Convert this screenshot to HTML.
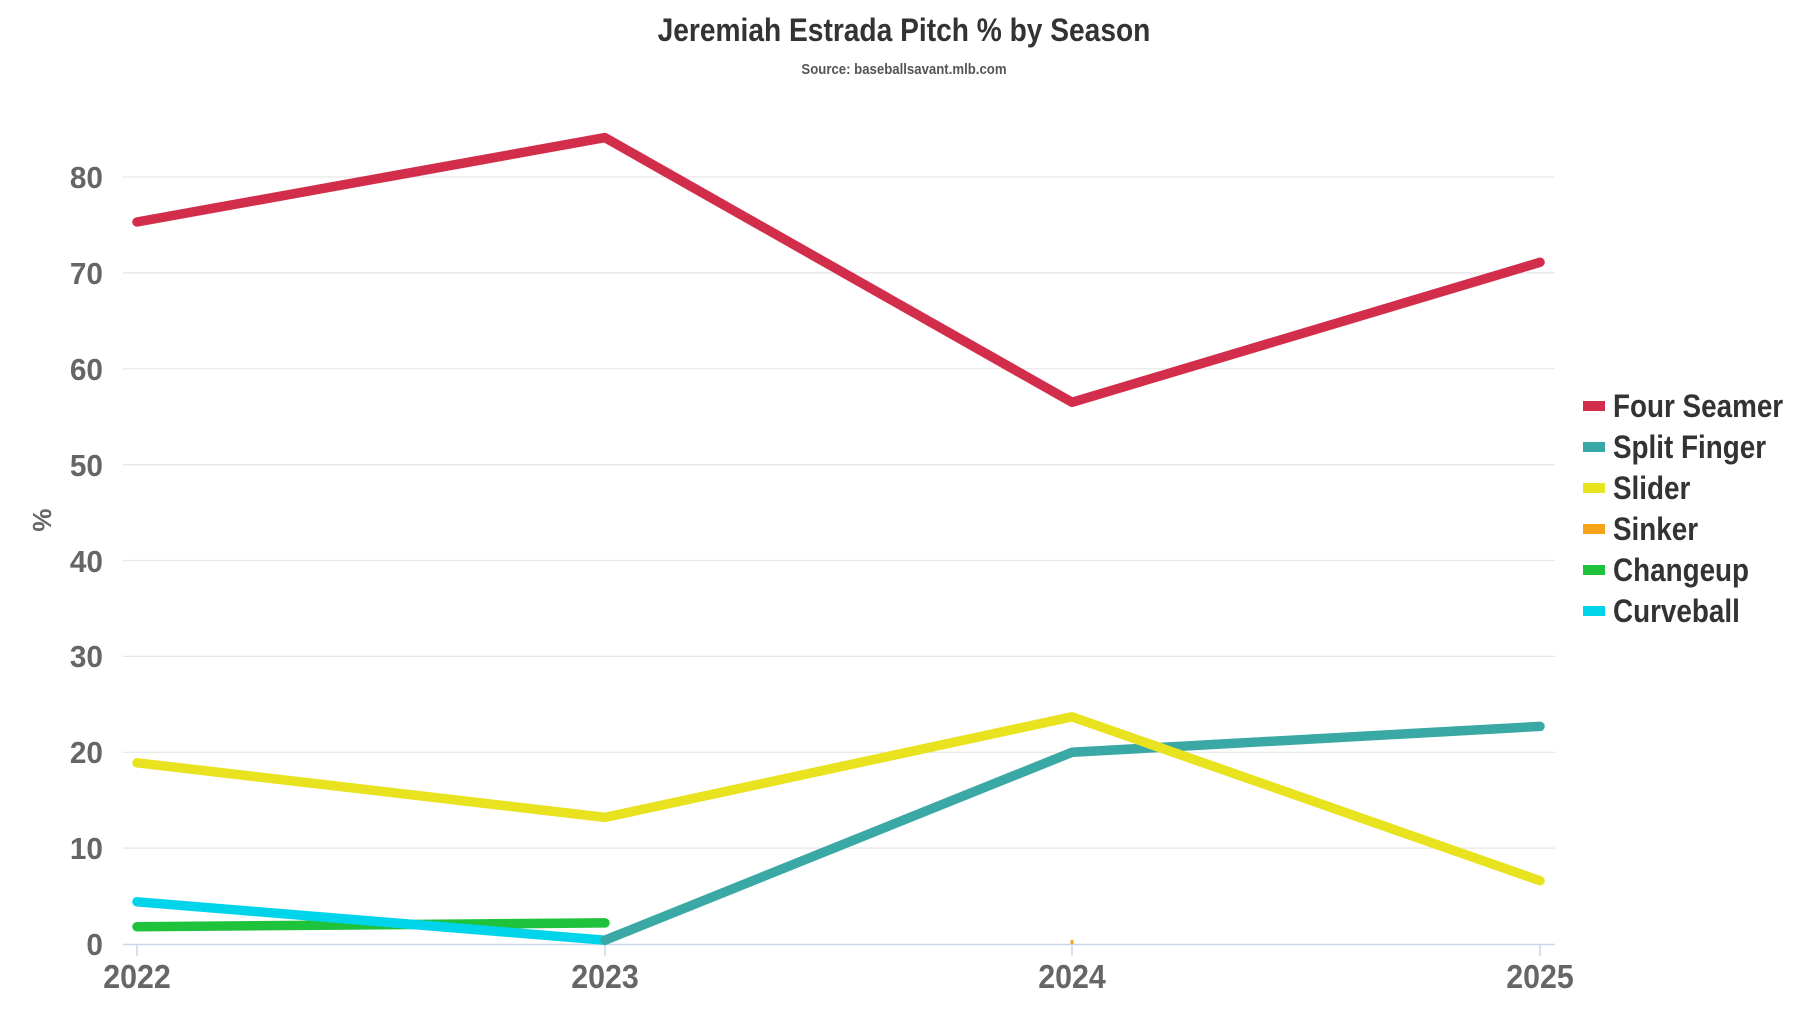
<!DOCTYPE html>
<html><head><meta charset="utf-8"><style>
html,body{margin:0;padding:0;background:#fff;}
svg{display:block;font-family:"Liberation Sans",sans-serif;font-weight:bold;}
</style></head><body>
<svg width="1800" height="1013" viewBox="0 0 1800 1013" xmlns="http://www.w3.org/2000/svg">
<text x="904" y="41" text-anchor="middle" font-size="32" fill="#333" transform="translate(904 0) scale(0.88 1) translate(-904 0)">Jeremiah Estrada Pitch % by Season</text>
<text x="904" y="74" text-anchor="middle" font-size="15" fill="#555" transform="translate(904 0) scale(0.88 1) translate(-904 0)">Source: baseballsavant.mlb.com</text>
<g stroke="#e6e6e6" stroke-width="1.2">
<line x1="123" x2="1555" y1="848.1" y2="848.1"/>
<line x1="123" x2="1555" y1="752.3" y2="752.3"/>
<line x1="123" x2="1555" y1="656.4" y2="656.4"/>
<line x1="123" x2="1555" y1="560.5" y2="560.5"/>
<line x1="123" x2="1555" y1="464.6" y2="464.6"/>
<line x1="123" x2="1555" y1="368.8" y2="368.8"/>
<line x1="123" x2="1555" y1="272.9" y2="272.9"/>
<line x1="123" x2="1555" y1="177" y2="177"/>
</g>
<line x1="123" x2="1555" y1="944.5" y2="944.5" stroke="#ccd6eb" stroke-width="1.5"/>
<g stroke="#ccd6eb" stroke-width="1.5">
<line x1="137" x2="137" y1="944" y2="956"/><line x1="605" x2="605" y1="944" y2="956"/><line x1="1072" x2="1072" y1="944" y2="956"/><line x1="1540" x2="1540" y1="944" y2="956"/>
</g>
<g font-size="31" fill="#666" text-anchor="end">
<text x="103" y="955" transform="translate(103 0) scale(0.96 1) translate(-103 0)">0</text>
<text x="103" y="859" transform="translate(103 0) scale(0.96 1) translate(-103 0)">10</text>
<text x="103" y="763" transform="translate(103 0) scale(0.96 1) translate(-103 0)">20</text>
<text x="103" y="667" transform="translate(103 0) scale(0.96 1) translate(-103 0)">30</text>
<text x="103" y="572" transform="translate(103 0) scale(0.96 1) translate(-103 0)">40</text>
<text x="103" y="476" transform="translate(103 0) scale(0.96 1) translate(-103 0)">50</text>
<text x="103" y="380" transform="translate(103 0) scale(0.96 1) translate(-103 0)">60</text>
<text x="103" y="284" transform="translate(103 0) scale(0.96 1) translate(-103 0)">70</text>
<text x="103" y="188" transform="translate(103 0) scale(0.96 1) translate(-103 0)">80</text>
</g>
<g font-size="33" fill="#666" text-anchor="middle">
<text x="137" y="988" transform="translate(137 0) scale(0.92 1) translate(-137 0)">2022</text>
<text x="605" y="988" transform="translate(605 0) scale(0.92 1) translate(-605 0)">2023</text>
<text x="1072" y="988" transform="translate(1072 0) scale(0.92 1) translate(-1072 0)">2024</text>
<text x="1540" y="988" transform="translate(1540 0) scale(0.92 1) translate(-1540 0)">2025</text>
</g>
<text x="0" y="0" font-size="26" fill="#666" text-anchor="middle" transform="translate(51 520) rotate(-90)">%</text>
<g fill="none" stroke-width="9.5" stroke-linejoin="round" stroke-linecap="round">
<polyline stroke="#d22e4b" points="137,222 605,137.6 1072,402.3 1540,262.3"/>
<polyline stroke="#1fc23b" points="137,926.7 605,922.9"/>
<polyline stroke="#00d4ea" points="137,901.8 605,940.2"/>
<polyline stroke="#3aa9a6" points="605,940.2 1072,752.3 1540,726.4"/>
<polyline stroke="#e8e21f" points="137,762.8 605,817.4 1072,716.8 1540,880.7"/>
</g>
<line x1="1072" x2="1072" y1="944" y2="940" stroke="#f7a21b" stroke-width="3"/>
<g font-size="32" fill="#333">
<rect x="1583" y="401" width="22" height="10" fill="#d22e4b"/>
<rect x="1583" y="442" width="22" height="10" fill="#3aa9a6"/>
<rect x="1583" y="483" width="22" height="10" fill="#e8e21f"/>
<rect x="1583" y="524" width="22" height="10" fill="#f7a21b"/>
<rect x="1583" y="565" width="22" height="10" fill="#1fc23b"/>
<rect x="1583" y="606" width="22" height="10" fill="#00d4ea"/>
<g transform="translate(1613 0) scale(0.87 1) translate(-1613 0)">
<text x="1613" y="417">Four Seamer</text>
<text x="1613" y="458">Split Finger</text>
<text x="1613" y="499">Slider</text>
<text x="1613" y="540">Sinker</text>
<text x="1613" y="581">Changeup</text>
<text x="1613" y="622">Curveball</text>
</g>
</g>
</svg>
</body></html>
